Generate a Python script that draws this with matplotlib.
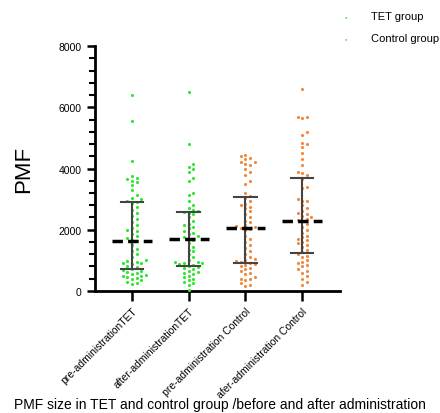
import matplotlib.pyplot as plt
import numpy as np

categories = ['pre-administrationTET', 'after-administrationTET',
              'pre-administration Control', 'afer-administration Control']

pre_tet = [6400, 5550, 4250, 3750, 3700, 3650, 3600, 3550, 3450, 3300, 3150, 3050, 3000, 2950, 2920,
           2880, 2750, 2650, 2550, 2450, 2350, 2250, 2150, 2050, 1980, 1950, 1850, 1800, 1720, 1660,
           1620, 1500, 1380, 1300, 1200, 1100, 1000, 980, 950, 920, 900, 880, 820, 780, 720,
           680, 650, 620, 600, 550, 520, 500, 480, 450, 420, 380, 350, 300, 260, 220]
after_tet = [6500, 4800, 4150, 4050, 4000, 3900, 3700, 3600, 3200, 3150, 2950, 2800, 2700, 2650, 2620,
             2580, 2550, 2500, 2400, 2300, 2200, 2150, 2100, 2050, 1950, 1900, 1850, 1800, 1750, 1700,
             1660, 1550, 1450, 1350, 1300, 1200, 1100, 1000, 950, 950, 920, 900, 880, 850, 820,
             780, 750, 700, 650, 620, 600, 550, 500, 450, 400, 350, 300, 250, 200, 20]
pre_ctrl = [4450, 4400, 4350, 4300, 4220, 4200, 4150, 4100, 4000, 3900, 3800, 3600, 3500, 3200, 3100,
            3050, 2950, 2850, 2800, 2750, 2700, 2600, 2500, 2400, 2300, 2250, 2150, 2120, 2100, 2070,
            2030, 2000, 1800, 1700, 1600, 1500, 1400, 1300, 1200, 1100, 1050, 1000, 980, 950, 920,
            880, 850, 800, 750, 700, 650, 600, 550, 450, 400, 400, 350, 250, 200, 150]
after_ctrl = [6600, 5700, 5700, 5650, 5200, 5100, 4850, 4800, 4700, 4500, 4300, 4100, 3900, 3850, 3780,
              3650, 3400, 3350, 3000, 2950, 2950, 2800, 2700, 2600, 2550, 2500, 2450, 2400, 2350, 2320,
              2280, 2200, 2100, 2000, 1900, 1800, 1750, 1700, 1650, 1600, 1550, 1500, 1450, 1350, 1260,
              1200, 1150, 1100, 1000, 950, 900, 850, 800, 700, 650, 600, 500, 400, 300, 200]

groups = [pre_tet, after_tet, pre_ctrl, after_ctrl]
green = '#2ee82e'
orange = '#f0883a'
colors = [green, green, orange, orange]

plt.rcParams['font.family'] = ['Liberation Sans', 'DejaVu Sans']

fig = plt.figure(figsize=(4.4, 4.14), dpi=100)
ax = fig.add_axes([0.216, 0.295, 0.557, 0.591])


def swarm(vals, xscale=56.7, yscale=32.7, d=4.6):
    # simple beeswarm offsets (in category units)
    order = np.argsort(vals)
    placed = []
    offs = np.zeros(len(vals))
    for i in order:
        y = vals[i] / yscale
        k = 0
        while True:
            cands = [0] if k == 0 else [k, -k]
            ok = None
            for c in cands:
                x = c * d
                if all((x - px) ** 2 + (y - py) ** 2 >= (d * 0.95) ** 2 for px, py in placed):
                    ok = x
                    break
            if ok is not None:
                placed.append((ok, y))
                offs[i] = ok / xscale
                break
            k += 1
    return offs


for i, vals in enumerate(groups):
    vals = np.array(vals, dtype=float)
    xs = i + swarm(vals)
    ax.scatter(xs, vals, s=5, color=colors[i], zorder=3, linewidths=0)
    med = np.median(vals)
    q1, q3 = np.percentile(vals, [25, 75])
    ax.plot([i, i], [q1, q3], color='#444444', lw=1.5, zorder=4)
    for q in (q1, q3):
        ax.plot([i - 0.2, i + 0.2], [q, q], color='#444444', lw=1.5, zorder=4)
    ax.plot([i - 0.35, i + 0.35], [med, med], color='black', lw=2.5,
            dashes=(3, 1.5), zorder=5)

ax.set_xlim(-0.65, 3.67)
ax.set_ylim(0, 8000)
ax.set_yticks([0, 2000, 4000, 6000, 8000])
ax.set_yticks(np.arange(0, 8001, 400), minor=True)
ax.set_xticks(range(4))
ax.set_xticklabels(categories, rotation=45, ha='right', rotation_mode='anchor', fontsize=7.5)
ax.tick_params(axis='y', labelsize=7.5, width=1.8, length=6)
ax.tick_params(axis='y', which='minor', width=1.5, length=4)
ax.tick_params(axis='x', width=1.8, length=7)
for s in ['top', 'right']:
    ax.spines[s].set_visible(False)
for s in ['left', 'bottom']:
    ax.spines[s].set_linewidth(2)

ax.set_ylabel('PMF', fontsize=16, labelpad=18)
fig.text(0.5, 0.012, 'PMF size in TET and control group /before and after administration',
         ha='center', fontsize=10)

fig.text(0.785, 0.958, '\u25cf', color=green, fontsize=3, ha='center', va='center')
fig.text(0.785, 0.905, '\u25cf', color=orange, fontsize=3, ha='center', va='center')
fig.text(0.843, 0.958, 'TET group', fontsize=8, va='center')
fig.text(0.843, 0.905, 'Control group', fontsize=8, va='center')

fig.savefig('out.png', dpi=100)
